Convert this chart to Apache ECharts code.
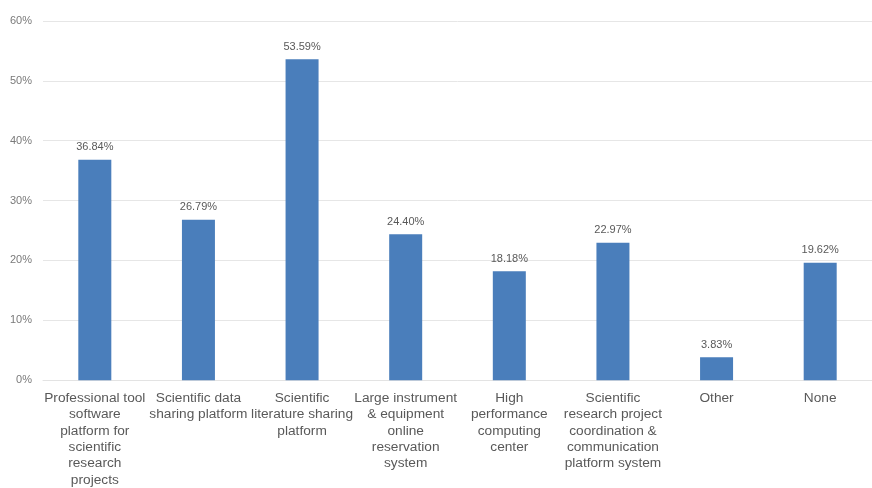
<!DOCTYPE html>
<html>
<head>
<meta charset="utf-8">
<script src="https://cdn.jsdelivr.net/npm/echarts@6/dist/echarts.min.js"></script>
<style>
  html, body { margin: 0; padding: 0; background: #ffffff; }
  #chart { width: 872px; height: 488px; }
</style>
</head>
<body>
<div id="chart"></div>
<script>
// Platform categories (line breaks as laid out under each bar)
const categories = [
  'Professional tool\nsoftware\nplatform for\nscientific\nresearch\nprojects',
  'Scientific data\nsharing platform',
  'Scientific\nliterature sharing\nplatform',
  'Large instrument\n& equipment\nonline\nreservation\nsystem',
  'High\nperformance\ncomputing\ncenter',
  'Scientific\nresearch project\ncoordination &\ncommunication\nplatform system',
  'Other',
  'None'
];

// Share of respondents, in percent
const shares = [36.84, 26.79, 53.59, 24.40, 18.18, 22.97, 3.83, 19.62];

// Value-axis ticks, in percent
const yTicks = [0, 10, 20, 30, 40, 50, 60];

const chart = echarts.init(document.getElementById('chart'), null, { renderer: 'canvas' });

chart.setOption({
  animation: false,
  backgroundColor: '#ffffff',
  textStyle: { fontFamily: 'Liberation Sans, Arial, sans-serif' },
  grid: { left: 43, top: 21, width: 836, height: 364, containLabel: false },
  xAxis: {
    type: 'category',
    data: categories,
    axisLine: { show: true, lineStyle: { color: '#e3e3e3', width: 1 } },
    axisTick: { show: false },
    axisLabel: {
      interval: 0,
      color: '#595959',
      fontSize: 13.7,
      lineHeight: 16.3,
      margin: 10,
      align: 'center'
    }
  },
  yAxis: {
    type: 'value',
    min: yTicks[0],
    max: yTicks[yTicks.length - 1],
    interval: yTicks[1] - yTicks[0],
    axisLine: { show: false },
    axisTick: { show: false },
    splitLine: { show: true, lineStyle: { color: '#e6e6e6', width: 1 } },
    axisLabel: {
      color: '#7a7a7a',
      fontSize: 11,
      margin: 11,
      formatter: v => v + '%'
    }
  },
  series: [{
    type: 'bar',
    data: shares,
    barWidth: 33,
    itemStyle: { color: '#4a7ebb' },
    label: {
      show: true,
      position: 'top',
      distance: 7,
      color: '#595959',
      fontSize: 11,
      formatter: p => p.value.toFixed(2) + '%'
    }
  }]
});
</script>
</body>
</html>
